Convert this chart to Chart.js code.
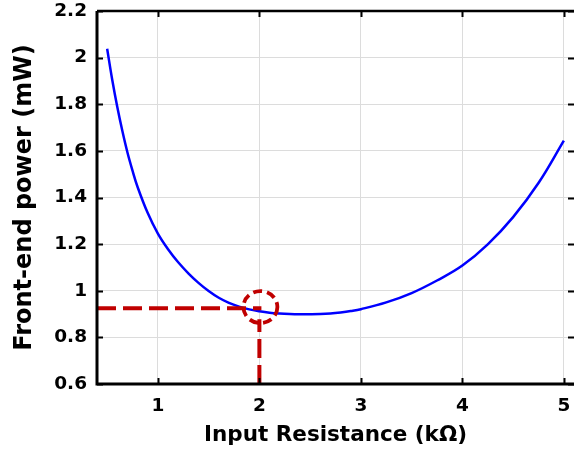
<!DOCTYPE html>
<html><head><meta charset="utf-8">
<script src="https://cdn.jsdelivr.net/npm/chart.js@4"></script>
<style>html,body{margin:0;padding:0;overflow:hidden;background:#fff}</style>
</head><body>
<canvas id="c" width="574" height="456" style="display:block;width:574px;height:456px"></canvas>
<script>
// ---- data ----
const resistance = [0.5, 0.55, 0.6, 0.65, 0.7, 0.75, 0.8, 0.9, 1.0, 1.1, 1.2, 1.3, 1.4, 1.5, 1.6, 1.7, 1.8, 1.9, 2.0, 2.1, 2.2, 2.3, 2.4, 2.5, 2.6, 2.7, 2.8, 2.9, 3.0, 3.25, 3.5, 3.75, 4.0, 4.25, 4.5, 4.75, 5.0];
const power      = [2.038, 1.905, 1.788, 1.685, 1.593, 1.515, 1.445, 1.333, 1.245, 1.178, 1.122, 1.075, 1.034, 0.999, 0.970, 0.948, 0.932, 0.920, 0.912, 0.906, 0.9025, 0.9005, 0.8995, 0.8993, 0.900, 0.9025, 0.907, 0.913, 0.921, 0.950, 0.990, 1.044, 1.108, 1.199, 1.316, 1.462, 1.644];
const xTickValues = [1, 2, 3, 4, 5];
const yTickValues = [0.6, 0.8, 1.0, 1.2, 1.4, 1.6, 1.8, 2.0, 2.2];
const xRange = [0.4, 5.1];
const yRange = [0.6, 2.2];
// operating point marked with red dashed guides
const opX = 2.0;
const opY = 0.925;
const guideHX = [0.4, 2.02];      // horizontal guide x extent
const guideVY = [0.6, 0.878];     // vertical guide y extent
const circleX = [2.01];
const circleY = [0.93];

const curve = resistance.map((x, i) => ({x, y: power[i]}));
const hGuide = guideHX.map(x => ({x, y: opY}));
const vGuide = guideVY.map(y => ({x: opX, y}));

const FONT = '"DejaVu Sans", "Liberation Sans", sans-serif';
const RED = '#c00000';

const framePlugin = {
  id: 'frame',
  afterDatasetsDraw(chart) {
    const {ctx, chartArea: a, scales} = chart;
    ctx.save();
    // highlight circle
    ctx.strokeStyle = RED;
    ctx.lineWidth = 3.8;
    ctx.setLineDash([9, 5]);
    circleX.forEach((cx, i) => {
      const px = scales.x.getPixelForValue(cx);
      const py = scales.y.getPixelForValue(circleY[i]);
      ctx.beginPath();
      ctx.ellipse(px, py, 17, 16, 0, 0, Math.PI * 2);
      ctx.stroke();
    });
    ctx.setLineDash([]);
    // inward ticks
    ctx.strokeStyle = '#000';
    ctx.lineWidth = 2;
    const tl = 6;
    xTickValues.forEach(v => {
      const px = Math.round(scales.x.getPixelForValue(v)) + 0.5;
      ctx.beginPath();
      ctx.moveTo(px, a.bottom); ctx.lineTo(px, a.bottom - tl);
      ctx.moveTo(px, a.top); ctx.lineTo(px, a.top + tl);
      ctx.stroke();
    });
    yTickValues.forEach(v => {
      const py = Math.round(scales.y.getPixelForValue(v)) + 0.5;
      ctx.beginPath();
      ctx.moveTo(a.left, py); ctx.lineTo(a.left + tl, py);
      ctx.moveTo(a.right, py); ctx.lineTo(a.right - tl, py);
      ctx.stroke();
    });
    // frame (left, bottom, top; right edge lies at the picture border)
    ctx.lineWidth = 3;
    ctx.beginPath();
    ctx.moveTo(a.left, a.top); ctx.lineTo(a.left, a.bottom); ctx.lineTo(a.right + 4, a.bottom);
    ctx.stroke();
    ctx.lineWidth = 2.5;
    ctx.beginPath();
    ctx.moveTo(a.left, a.top); ctx.lineTo(a.right + 4, a.top);
    ctx.stroke();
    ctx.restore();
  }
};

new Chart(document.getElementById('c'), {
  type: 'line',
  data: {
    datasets: [
      {data: curve, borderColor: '#0000ff', borderWidth: 2.5, pointRadius: 0, tension: 0.4, order: 2},
      {data: hGuide, borderColor: RED, borderWidth: 4, borderDash: [19, 7], pointRadius: 0, order: 1},
      {data: vGuide, borderColor: RED, borderWidth: 4, borderDash: [19, 7], pointRadius: 0, order: 1}
    ]
  },
  options: {
    responsive: false,
    animation: false,
    layout: {padding: {top: 11, right: 0, left: 0, bottom: 0}},
    plugins: {legend: {display: false}, tooltip: {enabled: false}},
    scales: {
      x: {
        type: 'linear', min: xRange[0], max: xRange[1],
        afterBuildTicks: s => { s.ticks = xTickValues.map(v => ({value: v})); },
        afterFit: s => { s.height = 72; s.paddingRight = 0; s.paddingLeft = 0; },
        grid: {color: '#dcdcdc', lineWidth: 1, drawTicks: false},
        border: {display: false},
        ticks: {color: '#000', padding: 11, font: {family: FONT, size: 18.5, weight: 'bold'}, maxRotation: 0},
        title: {display: true, text: 'Input Resistance (kΩ)', color: '#000', font: {family: FONT, size: 21.5, weight: 'bold'}, padding: {top: 0, bottom: 8}}
      },
      y: {
        type: 'linear', min: yRange[0], max: yRange[1],
        afterBuildTicks: s => { s.ticks = yTickValues.map(v => ({value: v})); },
        afterFit: s => { s.width = 97; s.paddingTop = 0; s.paddingBottom = 0; },
        grid: {color: '#dcdcdc', lineWidth: 1, drawTicks: false},
        border: {display: false},
        ticks: {color: '#000', padding: 10, font: {family: FONT, size: 18.5, weight: 'bold'},
                callback: v => String(Math.round(v * 10) / 10)},
        title: {display: true, text: 'Front-end power (mW)', color: '#000', font: {family: FONT, size: 24, weight: 'bold'}, padding: {top: 10, bottom: 0}}
      }
    }
  },
  plugins: [framePlugin]
});
</script>
</body></html>
